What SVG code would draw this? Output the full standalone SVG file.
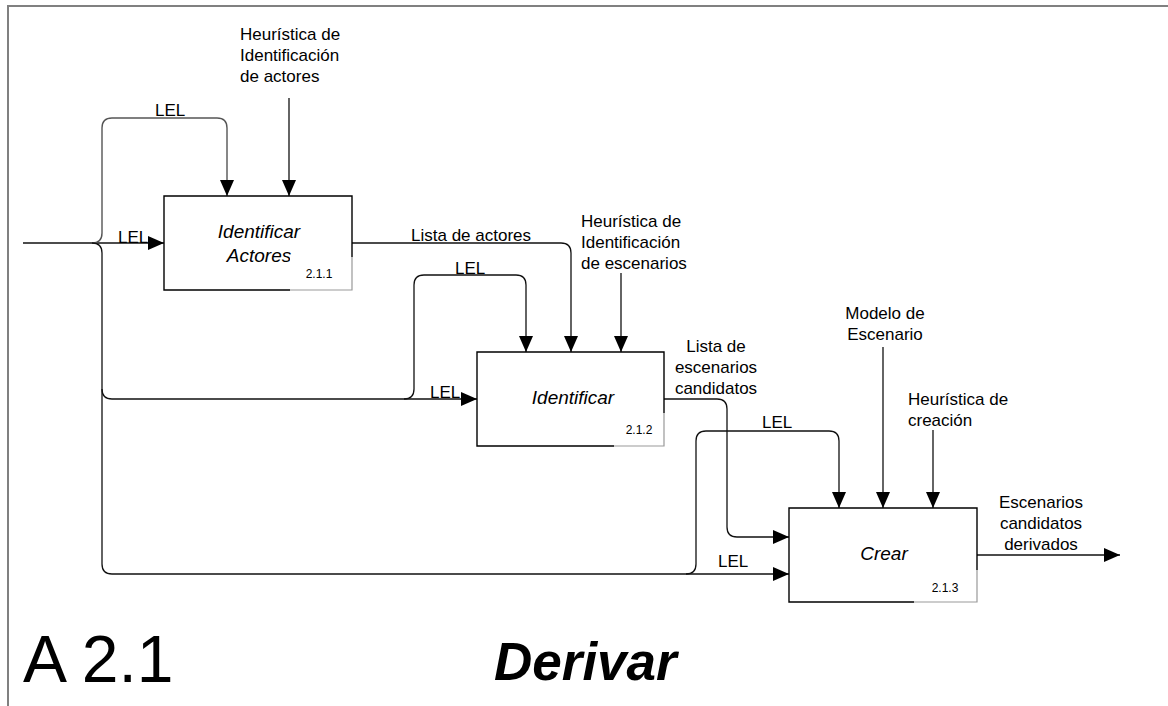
<svg xmlns="http://www.w3.org/2000/svg" width="1168" height="706" viewBox="0 0 1168 706">
<style>
.lbl{font-family:"Liberation Sans",Arial,sans-serif;font-size:17px;fill:#000}
.box{fill:#fff;stroke:none}
.dk{fill:none;stroke:#000;stroke-width:1.4}
.lt{fill:none;stroke:#999;stroke-width:1.2}
.nm{font-family:"Liberation Sans",Arial,sans-serif;font-size:19px;font-style:italic;fill:#000;text-anchor:middle}
.num{font-family:"Liberation Sans",Arial,sans-serif;font-size:12px;fill:#000;text-anchor:middle}
.c{fill:none;stroke:#111;stroke-width:1.3}
.g{fill:none;stroke:#555;stroke-width:1.4}
.frame{fill:none;stroke:#808080;stroke-width:2}
</style>
<defs>
<marker id="ah" markerUnits="userSpaceOnUse" viewBox="0 0 16 14" refX="16" refY="7" markerWidth="16" markerHeight="14" orient="auto">
<path d="M0,0 L16,7 L0,14 Z" fill="#000"/>
</marker>
</defs>
<rect x="0" y="0" width="1168" height="706" fill="#fff"/>
<path class="frame" d="M8,706 V6 H1168"/>

<g id="connectors">
<path class="c" d="M23,243 H164" marker-end="url(#ah)"/>
<path class="g" d="M92,243 Q102,243 102,233 V128 Q102,118 112,118 H217 Q227,118 227,128 V196" marker-end="url(#ah)"/>
<path class="c" d="M92,243 Q102,243 102,253 V389 Q102,399 112,399 H477" marker-end="url(#ah)"/>
<path class="c" d="M404,399 Q414,399 414,389 V285 Q414,275 424,275 H516 Q526,275 526,285 V352" marker-end="url(#ah)"/>
<path class="c" d="M102,389 V564 Q102,574 112,574 H789" marker-end="url(#ah)"/>
<path class="c" d="M686,574 Q696,574 696,564 V441 Q696,431 706,431 H829 Q839,431 839,441 V508" marker-end="url(#ah)"/>
<path class="c" d="M352,243 H561 Q571,243 571,253 V352" marker-end="url(#ah)"/>
<path class="c" d="M289,98 V196" marker-end="url(#ah)"/>
<path class="c" d="M621,273 V352" marker-end="url(#ah)"/>
<path class="c" d="M664,399 H717 Q727,399 727,409 V527 Q727,537 737,537 H789" marker-end="url(#ah)"/>
<path class="c" d="M883,347 V508" marker-end="url(#ah)"/>
<path class="c" d="M933,430 V508" marker-end="url(#ah)"/>
<path class="c" d="M977,555 H1120" marker-end="url(#ah)"/>
</g>

<g id="labels">
<text class="lbl" x="240" y="40">Heurística de</text>
<text class="lbl" x="240" y="61">Identificación</text>
<text class="lbl" x="240" y="82">de actores</text>
<text class="lbl" x="155" y="116">LEL</text>
<text class="lbl" x="118" y="243">LEL</text>
<text class="lbl" x="411" y="241">Lista de actores</text>
<text class="lbl" x="581" y="227">Heurística de</text>
<text class="lbl" x="581" y="248">Identificación</text>
<text class="lbl" x="581" y="269">de escenarios</text>
<text class="lbl" x="455" y="274">LEL</text>
<text class="lbl" x="430" y="398">LEL</text>
<text class="lbl" x="716" y="352" text-anchor="middle">Lista de</text>
<text class="lbl" x="716" y="373" text-anchor="middle">escenarios</text>
<text class="lbl" x="716" y="394" text-anchor="middle">candidatos</text>
<text class="lbl" x="885" y="319" text-anchor="middle">Modelo de</text>
<text class="lbl" x="885" y="340" text-anchor="middle">Escenario</text>
<text class="lbl" x="908" y="405">Heurística de</text>
<text class="lbl" x="908" y="426">creación</text>
<text class="lbl" x="762" y="428">LEL</text>
<text class="lbl" x="718" y="567">LEL</text>
<text class="lbl" x="1041" y="508" text-anchor="middle">Escenarios</text>
<text class="lbl" x="1041" y="529" text-anchor="middle">candidatos</text>
<text class="lbl" x="1041" y="550" text-anchor="middle">derivados</text>
</g>

<g id="node-2-1-1">
<rect class="box" x="164" y="196" width="188" height="94"/>
<text class="nm" x="259" y="238">Identificar</text>
<text class="nm" x="259" y="262">Actores</text>
<rect class="box" x="290" y="257" width="62" height="33"/>
<path class="dk" d="M290,290 H164 V196 H352 V257"/>
<path class="lt" d="M352,257 V290 H290"/>
<text class="num" x="319" y="278">2.1.1</text>
</g>

<g id="node-2-1-2">
<rect class="box" x="477" y="352" width="187" height="94"/>
<text class="nm" x="573" y="404">Identificar</text>
<path class="dk" d="M614,446 H477 V352 H664 V413"/>
<path class="lt" d="M664,413 V446 H614"/>
<text class="num" x="639" y="434">2.1.2</text>
</g>

<g id="node-2-1-3">
<rect class="box" x="789" y="508" width="188" height="94"/>
<text class="nm" x="884" y="560">Crear</text>
<path class="dk" d="M914,602 H789 V508 H977 V570"/>
<path class="lt" d="M977,570 V602 H914"/>
<text class="num" x="945" y="592">2.1.3</text>
</g>

<g id="title">
<text x="23" y="682" font-family="Liberation Sans, Arial, sans-serif" font-size="66" fill="#000">A 2.1</text>
<text x="494" y="680" font-family="Liberation Sans, Arial, sans-serif" font-size="53" font-weight="bold" font-style="italic" fill="#000">Derivar</text>
</g>
</svg>
